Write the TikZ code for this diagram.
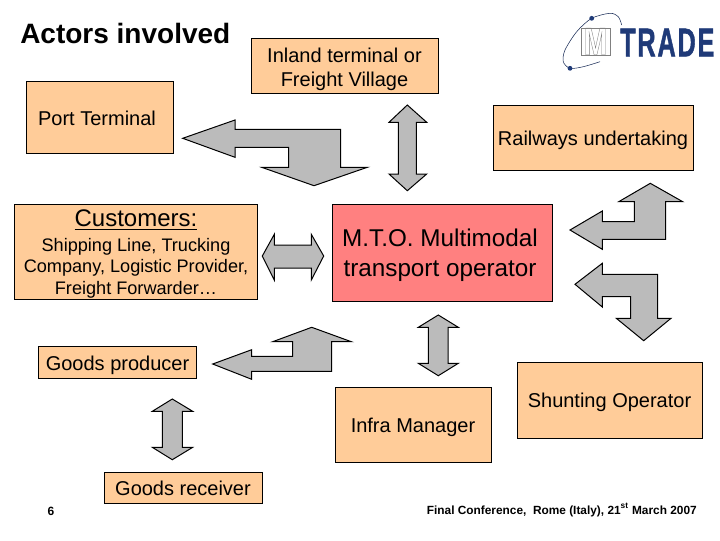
\documentclass[tikz,border=0pt]{standalone}
\usepackage{fontspec}
\setmainfont{Liberation Sans}
\usepackage{tikz}
\usetikzlibrary{positioning}

\definecolor{boxfill}{HTML}{FFCC99}
\definecolor{mtofill}{HTML}{FF8080}
\definecolor{arrowfill}{HTML}{BBBBBB}
\definecolor{logoblue}{HTML}{1F3A78}

\newcommand{\lowered}[2]{\raisebox{-#1}[\height][\depth]{\begin{tabular}{@{}c@{}}#2\end{tabular}}}

\tikzset{
  box/.style={draw=black, fill=boxfill, line width=0.75pt, inner sep=0pt, align=center, font=\fontsize{15}{18}\selectfont},
  blockarrow/.style={draw=black, fill=arrowfill, line width=0.75pt, miter limit=10}
}

\begin{document}
\begin{tikzpicture}[x=0.75pt,y=-0.75pt]
    \useasboundingbox (0,0) rectangle (720,540);

    \node[anchor=west, inner sep=0pt, font=\fontsize{21}{25}\selectfont\bfseries] (title) at (20,33) {Actors involved};

    % boxes
    \node[box, minimum width=110.25pt, minimum height=54pt] (port) at (100,117.5) {\lowered{2.25pt}{Port Terminal}\hspace*{4.5pt}};
    \node[box, minimum width=140.25pt, minimum height=41.25pt] (inland) at (344.5,65.5) {\lowered{3pt}{Inland terminal or\\Freight Village}};
    \node[box, minimum width=150pt, minimum height=48.75pt] (rail) at (593,137.5) {\lowered{2.25pt}{Railways undertaking}};
    \node[box, minimum width=182.25pt, minimum height=71.25pt, font=\fontsize{13.6}{16.2}\selectfont] (customers) at (136,252) {\lowered{2.6pt}{{\fontsize{18}{21}\selectfont\underline{Customers:}}\\[2pt]Shipping Line, Trucking\\Company, Logistic Provider,\\Freight Forwarder…}};
    \node[box, fill=mtofill, minimum width=165pt, minimum height=72.75pt, font=\fontsize{18.2}{22.5}\selectfont] (mto) at (442,252.5) {\lowered{1.9pt}{M.T.O. Multimodal\\transport operator}\hspace*{3pt}};
    \node[box, minimum width=118.5pt, minimum height=24pt] (producer) at (117.5,362) {\lowered{3pt}{Goods producer}};
    \node[box, minimum width=117pt, minimum height=56.25pt] (infra) at (413,424.5) {\lowered{2.25pt}{Infra Manager}};
    \node[box, minimum width=138.75pt, minimum height=57pt] (shunting) at (609.5,400) {\lowered{2.25pt}{Shunting Operator}};
    \node[box, minimum width=118.5pt, minimum height=23.25pt] (receiver) at (183,487.5) {\lowered{2.25pt}{Goods receiver}};

    % block arrows
    \draw[blockarrow] (182.7,138.3) -- (235,120) -- (235,129.3) -- (340.7,129.3) -- (340.7,167.3) -- (367.3,167.3)
      -- (314,185.7) -- (261.7,167.3) -- (288.7,167.3) -- (288.7,147.3) -- (235,147.3) -- (235,157.3) -- cycle;
    \draw[blockarrow] (407.3,105) -- (426.7,122.3) -- (416.3,122.3) -- (416.3,174) -- (426.7,174)
      -- (407.3,190.7) -- (389,174) -- (398.3,174) -- (398.3,122.3) -- (389,122.3) -- cycle;
    \draw[blockarrow] (570,230) -- (602.3,211) -- (602.3,221.7) -- (634.3,221.7) -- (634.3,201.7) -- (618.7,201.7)
      -- (650.3,183.3) -- (682.7,201.7) -- (665.7,201.7) -- (665.7,239.3) -- (602.3,239.3) -- (602.3,249.3) -- cycle;
    \draw[blockarrow] (575,284.3) -- (602.3,263.3) -- (602.3,274.3) -- (657.7,274.3) -- (657.7,318.3) -- (671,318.3)
      -- (643.7,340.7) -- (616.3,318.3) -- (630.7,318.3) -- (630.7,296.7) -- (602.3,296.7) -- (602.3,307) -- cycle;
    \draw[blockarrow] (212.7,364) -- (251.7,349.7) -- (251.7,356.3) -- (292.7,356.3) -- (292.7,341.7) -- (272.7,341.7)
      -- (311.7,327.3) -- (351.3,341.7) -- (331.7,341.7) -- (331.7,371.3) -- (251.7,371.3) -- (251.7,379.3) -- cycle;
    \draw[blockarrow] (438.3,315) -- (458.3,327.3) -- (448,327.3) -- (448,363.3) -- (458.3,363.3)
      -- (438.3,375.7) -- (418.3,363.3) -- (428.3,363.3) -- (428.3,327.3) -- (418.3,327.3) -- cycle;
    \draw[blockarrow] (172.3,399) -- (192.7,411.3) -- (182.3,411.3) -- (182.3,447.3) -- (192.7,447.3)
      -- (172.3,459.7) -- (152.3,447.3) -- (162.3,447.3) -- (162.3,411.3) -- (152.3,411.3) -- cycle;
    \draw[blockarrow] (262.3,256) -- (274.3,234.3) -- (274.3,245) -- (311.3,245) -- (311.3,234.3)
      -- (323.7,256) -- (311.3,280) -- (311.3,268) -- (274.3,268) -- (274.3,280) -- cycle;

    % logo
    \draw[logoblue!70!black, line width=0.4pt] plot[smooth] coordinates {(621.7,25) (618.3,16.7) (610,13.3) (591.7,18.3) (576.7,31.7) (565,50) (563.3,61.7) (570,68.3) (583.3,66.7) (600,61.7)};
    \fill[logoblue] (591.7,18.3) circle (2.4) (570,68.3) circle (2.4);
    \node[draw=gray, fill=white, line width=0.4pt, minimum width=21.75pt, minimum height=20.25pt, inner sep=0pt] (logom) at (595.5,41.5) {};
    \node[gray, xscale=0.72, transform shape, font=\fontsize{29}{29}\selectfont\bfseries, inner sep=0pt] (logoletter) at (595.5,41.5) {\special{pdf: code 1 Tr 0.35 w}M\special{pdf: code 0 Tr}};
    \node[logoblue, anchor=west, xscale=0.633, transform shape, inner sep=0pt, font=\fontsize{30}{30}\selectfont\bfseries] (logotrade) at (620,42.5) {\addfontfeatures{LetterSpace=7,FakeBold=1.5}TRADE};

    % footer
    \node[font=\fontsize{9}{11}\selectfont\bfseries, inner sep=0pt] (page) at (51,511) {6};
    \node[anchor=east, font=\fontsize{8.9}{11}\selectfont\bfseries, inner sep=0pt] (footer) at (697,510) {Final Conference,\ \ Rome (Italy), 21\textsuperscript{st} March 2007};
\end{tikzpicture}
\end{document}
